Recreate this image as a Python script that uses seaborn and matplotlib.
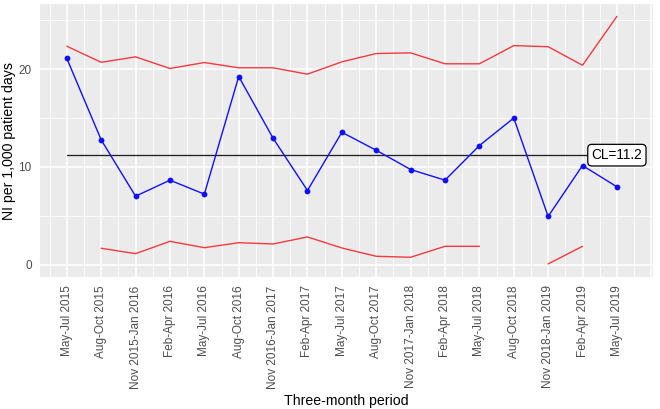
import numpy as np
import pandas as pd
import matplotlib
matplotlib.use("Agg")
import matplotlib.pyplot as plt
from matplotlib.ticker import FixedLocator
import seaborn as sns

periods = ["May-Jul 2015", "Aug-Oct 2015", "Nov 2015-Jan 2016", "Feb-Apr 2016",
           "May-Jul 2016", "Aug-Oct 2016", "Nov 2016-Jan 2017", "Feb-Apr 2017",
           "May-Jul 2017", "Aug-Oct 2017", "Nov 2017-Jan 2018", "Feb-Apr 2018",
           "May-Jul 2018", "Aug-Oct 2018", "Nov 2018-Jan 2019", "Feb-Apr 2019",
           "May-Jul 2019"]
ni_rate = [21.1, 12.76, 7.0, 8.64, 7.21, 19.25, 12.93, 7.58, 13.54, 11.7,
           9.73, 8.64, 12.18, 15.0, 4.93, 10.14, 7.96]
ucl = [22.35, 20.7, 21.26, 20.07, 20.68, 20.14, 20.14, 19.49, 20.75, 21.6,
       21.67, 20.55, 20.55, 22.41, 22.3, 20.4, 25.4]
lcl = [np.nan, 1.67, 1.12, 2.38, 1.73, 2.24, 2.11, 2.83, 1.7, 0.85,
       0.75, 1.87, 1.87, np.nan, 0.07, 1.87, np.nan]
center_line = 11.2

sns.set_style("darkgrid", {"axes.facecolor": "#EBEBEB", "grid.color": "white"})
plt.rcParams["font.family"] = ["Liberation Sans", "DejaVu Sans"]

idx = np.arange(len(periods))
df = pd.DataFrame({"x": idx, "rate": ni_rate, "ucl": ucl, "lcl": lcl})
lcl_df = df.dropna(subset=["lcl"]).copy()
lcl_df["seg"] = (lcl_df["x"].diff() != 1).cumsum()

fig = plt.figure(figsize=(6.6, 4.09), dpi=100)
ax = fig.add_axes([40 / 660, 1 - 277 / 409, 613 / 660, 273 / 409])

red = "#F23A3F"
sns.lineplot(data=df, x="x", y="ucl", color=red, lw=1.0, ax=ax)
sns.lineplot(data=lcl_df, x="x", y="lcl", units="seg", estimator=None,
             color=red, lw=1.0, ax=ax)
ax.plot([idx[0], idx[-1]], [center_line, center_line], color="#222222", lw=0.95, zorder=3)
sns.lineplot(data=df, x="x", y="rate", color="#1010FF", lw=1.0, marker="o",
             markersize=4.2, markeredgewidth=0, ax=ax, zorder=4)
ax.text(idx[-1], center_line, f"CL={center_line}", ha="center", va="center",
        fontsize=9.8, color="black", zorder=6,
        bbox=dict(boxstyle="round,pad=0.28,rounding_size=0.3", fc="white",
                  ec="black", lw=0.9))

ax.set_xlim(-0.78, 17.05)
ax.set_ylim(-1.27, 26.67)
ax.xaxis.set_major_locator(FixedLocator(list(range(0, 18))))
ax.xaxis.set_minor_locator(FixedLocator([i - 0.5 for i in range(0, 18)]))
ax.set_xticklabels(periods + [""], rotation=90)
ax.yaxis.set_major_locator(FixedLocator([0, 10, 20]))
ax.yaxis.set_minor_locator(FixedLocator([5, 15, 25]))
ax.grid(which="major", color="white", lw=1.1)
ax.grid(which="minor", color="white", lw=0.55)
for s in ax.spines.values():
    s.set_visible(False)
ax.tick_params(axis="both", which="major", length=3.5, width=0.8, color="#333333",
               labelsize=8.5, labelcolor="#4D4D4D", pad=2.5)
ax.tick_params(which="minor", length=0)
ax.xaxis.get_major_ticks()[-1].tick1line.set_visible(False)
ax.set_xlabel("Three-month period", fontsize=10.2, color="black", labelpad=4)
ax.set_ylabel("NI per 1,000 patient days", fontsize=10.2, color="black", labelpad=1.5)

fig.savefig("out.png", dpi=100)
